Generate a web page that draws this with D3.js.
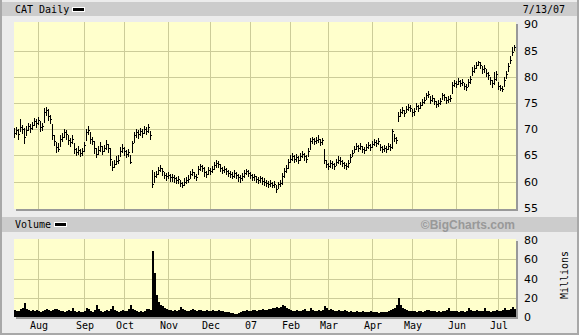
<!DOCTYPE html>
<html>
<head>
<meta charset="utf-8">
<script src="https://cdn.jsdelivr.net/npm/d3@7/dist/d3.min.js"></script>
<style>
body { margin: 0; background: #fff; }
svg { display: block; }
.mono { font-family: "DejaVu Sans Mono", monospace; font-size: 10px; fill: #000; }
.axis-num { font-family: "DejaVu Sans", sans-serif; font-size: 11px; fill: #000; }
</style>
</head>
<body>
<div class="viz"></div>
<script>
// daily CAT bars, 7/14/06 .. 7/13/07 (one value per trading day)
var highs = [
 70.2,70.4,70.0,71.9,70.8,70.2,70.6,71.2,71.0,71.4,
 72.2,72.0,72.4,71.6,71.2,74.0,74.2,73.8,72.8,71.0,
 68.8,67.6,67.4,68.8,69.2,70.0,69.8,68.8,68.4,68.8,
 67.4,66.4,66.8,66.2,66.4,67.6,70.0,70.6,69.4,68.6,
 67.8,66.4,66.8,67.6,66.8,67.0,68.0,67.2,66.4,64.0,
 64.2,64.8,65.0,66.6,67.2,66.6,66.0,66.2,65.0,67.8,
 69.4,70.0,69.8,70.2,70.0,70.6,70.4,71.0,69.6,62.3,
 61.8,62.0,62.8,63.1,62.6,61.8,61.6,61.8,61.5,61.4,
 61.2,60.9,61.0,60.4,60.0,60.6,60.8,61.2,62.0,62.4,
 61.8,61.4,63.0,63.3,63.2,62.8,62.0,62.7,62.6,63.0,
 63.8,64.1,64.0,63.4,62.8,63.0,62.6,62.2,62.0,61.8,
 62.2,61.8,61.4,61.2,61.6,62.2,62.4,62.2,61.8,61.5,
 61.5,61.1,60.8,61.1,60.8,60.6,60.4,60.1,60.3,60.0,
 60.2,59.4,60.0,60.3,61.6,62.6,63.2,64.4,65.0,65.4,
 65.0,65.2,64.8,65.4,65.9,65.4,65.0,66.4,68.4,68.6,
 68.3,68.6,68.8,68.2,68.4,66.2,64.2,63.6,64.2,64.0,
 63.6,64.4,64.8,64.6,64.2,63.8,63.6,64.2,65.2,66.0,
 66.8,67.4,67.0,67.4,66.8,66.6,67.2,67.6,67.2,67.8,
 68.2,68.0,68.4,67.2,66.8,67.0,66.8,67.4,67.2,70.0,
 69.0,68.6,73.2,73.8,74.2,73.6,74.4,74.8,74.6,73.8,
 74.0,75.0,74.6,75.2,75.8,76.2,77.0,77.2,76.4,76.6,
 76.0,75.4,75.6,76.0,77.0,76.8,76.2,76.4,76.6,79.0,
 79.4,79.2,79.8,79.4,79.6,78.8,78.6,79.6,80.2,81.8,
 82.2,82.8,83.1,82.8,82.0,82.2,81.4,81.0,80.0,79.4,
 81.0,81.2,79.0,78.4,78.2,80.0,81.2,82.6,84.0,85.6,
 86.1];
var lows = [
 68.6,69.0,68.2,69.6,69.2,67.3,68.8,69.8,69.4,70.0,
 70.8,70.4,71.0,69.6,69.8,71.4,72.8,71.8,71.2,68.2,
 67.0,65.7,65.8,66.8,67.8,68.6,68.2,67.2,66.8,67.4,
 65.4,65.0,65.2,64.8,65.0,65.8,68.0,69.0,67.4,67.2,
 65.4,64.6,65.2,65.8,65.2,65.8,66.2,65.6,63.2,62.2,
 62.8,63.4,63.6,64.8,65.6,65.0,64.6,64.8,63.5,65.6,
 67.6,68.6,68.4,68.8,68.6,69.2,69.0,69.4,68.2,59.0,
 59.9,60.8,61.4,62.0,61.2,60.6,60.4,60.6,60.2,60.2,
 60.0,59.8,59.8,59.2,59.0,59.4,59.8,59.9,60.6,61.2,
 60.6,60.4,61.4,62.2,62.0,61.0,60.8,61.4,61.4,61.8,
 62.4,62.8,62.8,62.0,61.6,61.8,61.4,61.0,60.8,60.6,
 60.8,60.6,60.2,60.0,60.4,60.8,61.4,61.0,60.6,60.4,
 60.4,59.9,59.8,60.0,59.6,59.4,59.2,59.0,59.2,59.0,
 59.0,58.1,58.8,59.2,59.6,60.8,61.8,62.6,63.8,64.2,
 63.8,64.0,63.6,64.2,64.6,64.2,63.8,64.8,66.2,67.4,
 67.2,67.4,67.6,67.0,67.2,63.6,62.8,62.4,62.8,62.6,
 62.4,63.2,63.6,63.4,63.0,62.6,62.5,62.8,63.8,64.8,
 65.6,66.2,65.8,66.2,65.6,65.4,66.0,66.4,66.0,66.6,
 67.0,66.8,67.2,66.0,65.6,65.8,65.6,66.2,66.0,66.4,
 67.8,67.4,71.6,72.6,73.0,72.6,73.2,73.6,73.4,72.6,
 72.8,73.8,73.4,74.0,74.6,75.0,75.8,76.2,75.0,75.4,
 74.8,74.2,74.4,74.8,75.8,75.6,75.0,75.2,75.4,77.0,
 78.2,78.0,78.6,78.2,78.4,77.6,77.4,78.2,78.8,80.4,
 81.0,81.6,82.2,81.6,80.8,81.0,80.2,79.6,78.6,78.0,
 78.6,79.4,77.6,77.4,77.2,78.2,79.8,81.2,82.6,84.2,
 85.2];
var closes = [
 69.3,69.8,69.0,70.5,70.0,68.5,69.8,70.6,70.2,70.8,
 71.6,71.2,71.8,70.4,70.6,73.2,73.6,72.6,72.0,68.8,
 67.8,66.6,66.2,68.2,68.6,69.4,69.0,68.0,67.6,68.2,
 66.2,65.6,66.0,65.4,65.8,67.0,69.4,69.8,68.2,67.8,
 66.4,65.2,66.0,66.8,65.8,66.4,67.2,66.4,64.4,62.8,
 63.4,64.0,64.2,65.8,66.4,65.8,65.2,65.6,63.8,67.4,
 68.8,69.4,69.0,69.6,69.2,70.0,69.6,70.4,68.8,59.6,
 61.0,61.4,62.2,62.6,62.0,61.2,61.0,61.3,60.9,60.8,
 60.6,60.3,60.5,59.8,59.3,60.0,60.3,60.5,61.5,61.8,
 61.0,60.9,62.4,62.9,62.6,61.8,61.4,62.2,62.0,62.4,
 63.2,63.6,63.4,62.6,62.2,62.5,62.0,61.6,61.4,61.1,
 61.6,61.2,60.8,60.6,61.0,61.6,62.0,61.6,61.2,60.9,
 61.0,60.5,60.3,60.6,60.2,60.0,59.8,59.5,59.8,59.4,
 59.6,58.6,59.5,59.8,61.0,62.0,62.6,63.8,64.4,64.8,
 64.4,64.6,64.2,64.8,65.3,64.8,64.4,65.8,67.8,68.1,
 67.7,68.0,68.2,67.6,67.9,64.2,63.4,62.9,63.6,63.3,
 63.0,63.8,64.2,64.0,63.6,63.2,63.0,63.6,64.6,65.4,
 66.2,66.8,66.4,66.8,66.2,66.0,66.6,67.0,66.6,67.2,
 67.6,67.4,67.8,66.6,66.2,66.4,66.2,66.8,66.6,69.6,
 68.4,68.0,72.6,73.2,73.6,73.0,73.8,74.2,74.0,73.2,
 73.4,74.4,74.0,74.6,75.2,75.6,76.6,76.8,75.6,76.0,
 75.4,74.8,75.0,75.4,76.6,76.2,75.6,75.8,76.0,78.4,
 78.8,78.6,79.2,78.8,79.0,78.2,78.0,79.0,79.6,81.2,
 81.6,82.2,82.8,82.2,81.4,81.6,80.8,80.4,79.4,78.8,
 79.6,80.6,78.2,77.8,77.6,79.4,80.6,82.0,83.2,84.8,
 85.6];
// volume, millions of shares
var volumes = [
 7,6,6,8,9,14,8,7,6,7,
 6,7,6,5,6,7,8,7,6,7,
 8,8,7,6,6,5,6,7,6,9,
 6,5,6,5,5,6,9,8,6,5,
 7,12,8,6,5,6,7,6,8,11,
 7,6,5,6,7,6,6,8,12,8,
 7,6,5,6,5,6,8,8,7,68.5,
 46,23,16,12,11,9,8,7,7,6,
 7,6,7,10,8,7,6,6,7,8,
 7,6,7,7,6,6,7,6,6,7,
 6,6,7,6,6,5,5,5,4,4,
 3.5,3.5,4,5,6,6,7,6,6,7,
 7,6,7,7,8,7,7,8,8,9,
 9,10,9,10,12,11,9,8,7,6,
 6,7,6,6,7,8,6,6,9,7,
 6,6,7,6,7,11.5,9,7,8,7,
 6,6,7,6,6,7,6,5,6,5,
 5,6,5,5,6,5,5,5,6,5,
 5,5,4.5,5,5,5,5,6,7,8,
 9,12,20,12,9,8,7,6,6,6,
 6,5,6,6,5,6,7,7,6,6,
 6,5,6,5,6,6,7,9,6,6,
 6,6,5,6,6,5,6,9,7,6,
 6,7,6,6,6,9,6,6,5,6,
 6,7,6,6,7,9,7,7,8,10,
 8];
var priceTicks = [55, 60, 65, 70, 75, 80, 85, 90];
var volumeTicks = [0, 20, 40, 60, 80];
var monthLabels = ["Aug","Sep","Oct","Nov","Dec","07","Feb","Mar","Apr","May","Jun","Jul"];
var holidays = ["2006-09-04","2006-11-23","2006-12-25","2007-01-01","2007-01-02",
                "2007-01-15","2007-02-19","2007-04-06","2007-05-28","2007-07-04"];

var width = 579, height = 335;
var fmt = d3.timeFormat("%Y-%m-%d");

// trading calendar
var days = d3.timeDay.range(new Date(2006, 6, 14), new Date(2007, 6, 14))
    .filter(function (d) {
        return d.getDay() !== 0 && d.getDay() !== 6 && holidays.indexOf(fmt(d)) < 0;
    });

var bars = days.map(function (d, i) {
    return {date: d, high: highs[i], low: lows[i], close: closes[i], vol: volumes[i]};
});

// first trading day of each month (skip the partial July at the start)
var monthStarts = [];
bars.forEach(function (b, i) {
    if (i > 0 && b.date.getMonth() !== bars[i - 1].date.getMonth()) monthStarts.push(i);
});

var plotLeft = 14, plotRight = 515;
var x = d3.scaleLinear().domain([0, bars.length - 1]).range([14.5, 514.5]);
var y = d3.scaleLinear().domain([55, 90]).range([207.8, 24.4]);
var yv = d3.scaleLinear().domain([0, 80]).range([316.9, 240.1]);

var svg = d3.select('.viz').append('svg')
    .attr('width', width)
    .attr('height', height);

svg.append('rect').attr('width', width).attr('height', height).attr('fill', '#ececec');
svg.append('rect').attr('x', 0).attr('y', 0).attr('width', 2).attr('height', height).attr('fill', '#a8a8a8');
svg.append('rect').attr('x', 577).attr('y', 0).attr('width', 2).attr('height', height).attr('fill', '#a8a8a8');
svg.append('rect').attr('x', 0).attr('y', 333).attr('width', width).attr('height', 2).attr('fill', '#a8a8a8');

// title bands
svg.append('rect').attr('x', 2).attr('y', 2).attr('width', 575).attr('height', 14).attr('fill', '#cccccc');
svg.append('rect').attr('x', 2).attr('y', 217).attr('width', 575).attr('height', 15).attr('fill', '#cccccc');

svg.append('text').attr('class', 'mono').attr('x', 15).attr('y', 13).text('CAT Daily');
svg.append('rect').attr('x', 72).attr('y', 7).attr('width', 13).attr('height', 5).attr('fill', '#fff');
svg.append('rect').attr('x', 73).attr('y', 8).attr('width', 11).attr('height', 3).attr('fill', '#000');
svg.append('text').attr('class', 'mono').attr('x', 565).attr('y', 13)
    .attr('text-anchor', 'end').text('7/13/07');

svg.append('text').attr('class', 'mono').attr('x', 15).attr('y', 228).text('Volume');
svg.append('rect').attr('x', 54).attr('y', 222).attr('width', 13).attr('height', 5).attr('fill', '#fff');
svg.append('rect').attr('x', 55).attr('y', 223).attr('width', 11).attr('height', 3).attr('fill', '#000');
svg.append('text').attr('x', 515).attr('y', 229).attr('text-anchor', 'end')
    .style('font-family', '"Liberation Sans", Arial, sans-serif')
    .style('font-size', '12px').style('font-weight', 'bold').style('fill', '#999')
    .text('\u00a9BigCharts.com');

function panel(top, bottom) {
    svg.append('rect').attr('x', plotLeft + 2).attr('y', top + 2)
        .attr('width', plotRight - plotLeft + 1).attr('height', bottom - top + 1).attr('fill', '#999');
    svg.append('rect').attr('x', plotLeft).attr('y', top)
        .attr('width', plotRight - plotLeft + 1).attr('height', bottom - top + 1).attr('fill', '#ffffcc');
}
panel(22, 208);
panel(239, 316);

var gridColor = '#cccc99';
var gMain = svg.append('g');
var gVol = svg.append('g');

// vertical month grid
monthStarts.forEach(function (i) {
    var gx = Math.round(x(i)) - 0.5;
    gMain.append('line').attr('x1', gx).attr('x2', gx).attr('y1', 22).attr('y2', 209)
        .attr('stroke', gridColor);
    gVol.append('line').attr('x1', gx).attr('x2', gx).attr('y1', 239).attr('y2', 317)
        .attr('stroke', gridColor);
});

priceTicks.filter(function (t) { return t > 55 && t < 90; }).forEach(function (t) {
    var gy = Math.round(y(t)) + 0.5;
    gMain.append('line').attr('x1', plotLeft).attr('x2', plotRight + 1).attr('y1', gy).attr('y2', gy)
        .attr('stroke', gridColor);
});
volumeTicks.filter(function (t) { return t > 0 && t < 80; }).forEach(function (t) {
    var gy = Math.round(yv(t)) + 0.5;
    gVol.append('line').attr('x1', plotLeft).attr('x2', plotRight + 1).attr('y1', gy).attr('y2', gy)
        .attr('stroke', gridColor);
});

// price bars: high-low stroke with close tick
var barG = gMain.selectAll('.bar').data(bars).enter().append('g').attr('class', 'bar');
barG.append('line')
    .attr('x1', function (d, i) { return x(i); })
    .attr('x2', function (d, i) { return x(i); })
    .attr('y1', function (d) { return Math.round(y(d.high)); })
    .attr('y2', function (d) { return Math.round(y(d.low)) + 1; })
    .attr('stroke', '#000').attr('stroke-width', 1);
barG.append('line')
    .attr('x1', function (d, i) { return x(i) - 0.5; })
    .attr('x2', function (d, i) { return x(i) + 1.5; })
    .attr('y1', function (d) { return Math.round(y(d.close)) + 0.5; })
    .attr('y2', function (d) { return Math.round(y(d.close)) + 0.5; })
    .attr('stroke', '#000').attr('stroke-width', 1);

// volume bars
gVol.selectAll('.vbar').data(bars).enter().append('rect')
    .attr('class', 'vbar')
    .attr('x', function (d, i) { return x(i) - 0.5; })
    .attr('width', 2)
    .attr('y', function (d) { return Math.round(yv(d.vol)); })
    .attr('height', function (d) { return 317 - Math.round(yv(d.vol)); })
    .attr('fill', '#000');

// right axes
svg.selectAll('.plab').data(priceTicks).enter().append('text')
    .attr('class', 'axis-num')
    .attr('x', 524)
    .attr('y', function (d) { return y(d) + 4; })
    .text(function (d) { return d; });
svg.selectAll('.vlab').data(volumeTicks).enter().append('text')
    .attr('class', 'axis-num')
    .attr('x', 524)
    .attr('y', function (d) { return yv(d) + 4; })
    .text(function (d) { return d; });
svg.append('text').attr('class', 'mono')
    .attr('transform', 'translate(568,275) rotate(-90)')
    .attr('text-anchor', 'middle')
    .text('Millions');

// month labels
svg.selectAll('.mlab').data(monthStarts).enter().append('text')
    .attr('class', 'mono')
    .attr('x', function (i) { return Math.round(x(i)); })
    .attr('y', 329)
    .attr('text-anchor', 'middle')
    .text(function (d, k) { return monthLabels[k]; });
</script>
</body>
</html>
